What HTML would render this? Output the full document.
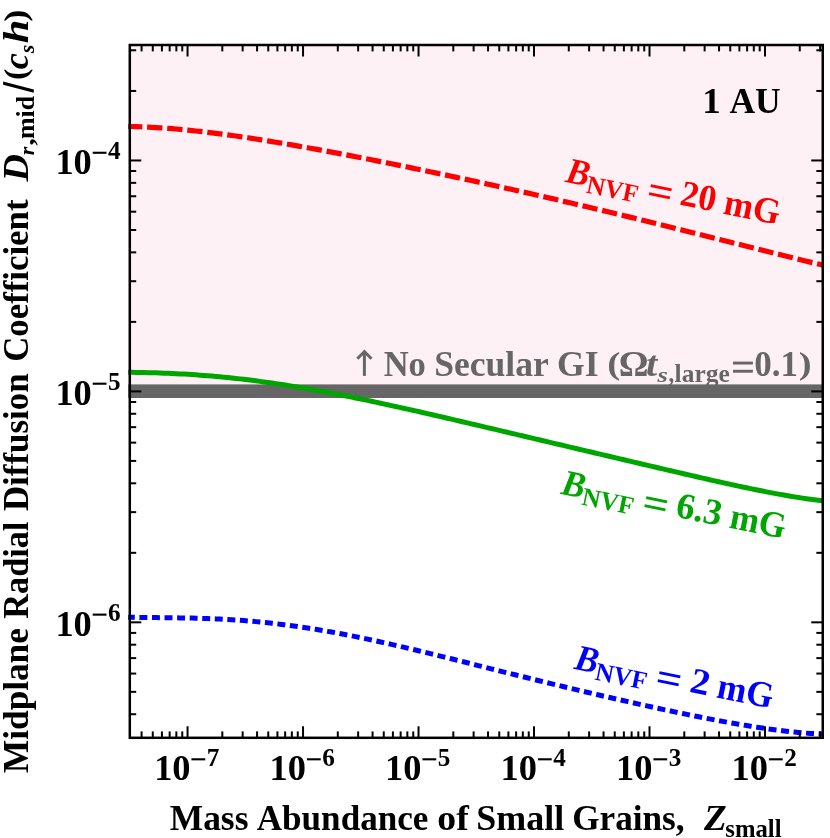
<!DOCTYPE html>
<html><head><meta charset="utf-8"><title>chart</title>
<style>
html,body{margin:0;padding:0;background:#fff;}
svg{display:block;will-change:transform;}
text{font-family:"Liberation Serif",serif;font-weight:bold;font-kerning:none;font-variant-ligatures:none;}
.i{font-style:italic;}
</style></head><body>
<svg width="830" height="838" viewBox="0 0 830 838">
<rect width="830" height="838" fill="#fff"/>
<rect x="128.2" y="45.0" width="695.55" height="346.40" fill="#fef1f6"/>
<rect x="128.2" y="384.4" width="695.55" height="13.6" fill="#666666"/>
<path d="M128.20,372.28 L132.19,372.33 L136.18,372.39 L140.17,372.47 L144.16,372.55 L148.15,372.65 L152.14,372.75 L156.13,372.87 L160.12,373.01 L164.11,373.15 L168.10,373.31 L172.09,373.49 L176.08,373.68 L180.07,373.89 L184.06,374.11 L188.04,374.34 L192.03,374.59 L196.02,374.86 L200.01,375.15 L204.00,375.45 L207.99,375.76 L211.98,376.10 L215.97,376.45 L219.96,376.81 L223.95,377.20 L227.94,377.59 L231.93,378.01 L235.92,378.44 L239.91,378.89 L243.90,379.35 L247.89,379.83 L251.88,380.33 L255.87,380.84 L259.86,381.37 L263.85,381.91 L267.84,382.46 L271.83,383.03 L275.82,383.62 L279.81,384.22 L283.80,384.83 L287.79,385.46 L291.78,386.10 L295.77,386.76 L299.76,387.42 L303.74,388.10 L307.73,388.79 L311.72,389.50 L315.71,390.21 L319.70,390.94 L323.69,391.68 L327.68,392.42 L331.67,393.18 L335.66,393.95 L339.65,394.73 L343.64,395.51 L347.63,396.31 L351.62,397.11 L355.61,397.93 L359.60,398.75 L363.59,399.58 L367.58,400.41 L371.57,401.26 L375.56,402.11 L379.55,402.96 L383.54,403.82 L387.53,404.69 L391.52,405.57 L395.51,406.45 L399.50,407.33 L403.49,408.22 L407.48,409.11 L411.47,410.01 L415.46,410.91 L419.44,411.81 L423.43,412.72 L427.42,413.64 L431.41,414.55 L435.40,415.47 L439.39,416.39 L443.38,417.31 L447.37,418.23 L451.36,419.16 L455.35,420.09 L459.34,421.02 L463.33,421.95 L467.32,422.89 L471.31,423.82 L475.30,424.75 L479.29,425.69 L483.28,426.63 L487.27,427.57 L491.26,428.51 L495.25,429.44 L499.24,430.38 L503.23,431.32 L507.22,432.26 L511.21,433.21 L515.20,434.15 L519.19,435.09 L523.18,436.03 L527.17,436.97 L531.16,437.91 L535.14,438.85 L539.13,439.79 L543.12,440.73 L547.11,441.67 L551.10,442.62 L555.09,443.56 L559.08,444.50 L563.07,445.44 L567.06,446.38 L571.05,447.32 L575.04,448.26 L579.03,449.20 L583.02,450.14 L587.01,451.08 L591.00,452.02 L594.99,452.96 L598.98,453.90 L602.97,454.84 L606.96,455.78 L610.95,456.72 L614.94,457.66 L618.93,458.60 L622.92,459.54 L626.91,460.47 L630.90,461.41 L634.89,462.35 L638.88,463.29 L642.87,464.23 L646.86,465.16 L650.84,466.10 L654.83,467.03 L658.82,467.97 L662.81,468.90 L666.80,469.83 L670.79,470.76 L674.78,471.69 L678.77,472.62 L682.76,473.54 L686.75,474.47 L690.74,475.39 L694.73,476.30 L698.72,477.22 L702.71,478.13 L706.70,479.04 L710.69,479.94 L714.68,480.84 L718.67,481.73 L722.66,482.62 L726.65,483.50 L730.64,484.37 L734.63,485.24 L738.62,486.10 L742.61,486.95 L746.60,487.79 L750.59,488.62 L754.58,489.44 L758.57,490.25 L762.56,491.05 L766.54,491.83 L770.53,492.60 L774.52,493.35 L778.51,494.09 L782.50,494.81 L786.49,495.51 L790.48,496.19 L794.47,496.85 L798.46,497.49 L802.45,498.10 L806.44,498.69 L810.43,499.26 L814.42,499.79 L818.41,500.29 L822.40,500.77" fill="none" stroke="#00a600" stroke-width="5"/>
<path d="M128.20,126.42 L132.19,126.50 L136.18,126.61 L140.17,126.75 L144.16,126.91 L148.15,127.09 L152.14,127.30 L156.13,127.53 L160.12,127.79 L164.11,128.07 L168.10,128.36 L172.09,128.68 L176.08,129.02 L180.07,129.38 L184.06,129.75 L188.04,130.14 L192.03,130.55 L196.02,130.98 L200.01,131.42 L204.00,131.88 L207.99,132.35 L211.98,132.84 L215.97,133.34 L219.96,133.85 L223.95,134.38 L227.94,134.92 L231.93,135.47 L235.92,136.03 L239.91,136.61 L243.90,137.19 L247.89,137.79 L251.88,138.39 L255.87,139.01 L259.86,139.63 L263.85,140.27 L267.84,140.91 L271.83,141.56 L275.82,142.21 L279.81,142.88 L283.80,143.55 L287.79,144.23 L291.78,144.92 L295.77,145.62 L299.76,146.32 L303.74,147.02 L307.73,147.73 L311.72,148.45 L315.71,149.18 L319.70,149.91 L323.69,150.64 L327.68,151.38 L331.67,152.13 L335.66,152.88 L339.65,153.63 L343.64,154.39 L347.63,155.15 L351.62,155.92 L355.61,156.69 L359.60,157.47 L363.59,158.25 L367.58,159.03 L371.57,159.82 L375.56,160.61 L379.55,161.40 L383.54,162.20 L387.53,163.00 L391.52,163.80 L395.51,164.61 L399.50,165.42 L403.49,166.23 L407.48,167.05 L411.47,167.87 L415.46,168.69 L419.44,169.52 L423.43,170.35 L427.42,171.18 L431.41,172.02 L435.40,172.86 L439.39,173.70 L443.38,174.54 L447.37,175.39 L451.36,176.24 L455.35,177.09 L459.34,177.94 L463.33,178.80 L467.32,179.66 L471.31,180.53 L475.30,181.39 L479.29,182.26 L483.28,183.13 L487.27,184.01 L491.26,184.89 L495.25,185.77 L499.24,186.65 L503.23,187.54 L507.22,188.43 L511.21,189.32 L515.20,190.21 L519.19,191.11 L523.18,192.01 L527.17,192.91 L531.16,193.82 L535.14,194.73 L539.13,195.64 L543.12,196.55 L547.11,197.47 L551.10,198.39 L555.09,199.31 L559.08,200.24 L563.07,201.17 L567.06,202.10 L571.05,203.03 L575.04,203.97 L579.03,204.91 L583.02,205.85 L587.01,206.80 L591.00,207.75 L594.99,208.70 L598.98,209.65 L602.97,210.61 L606.96,211.56 L610.95,212.53 L614.94,213.49 L618.93,214.46 L622.92,215.42 L626.91,216.39 L630.90,217.37 L634.89,218.34 L638.88,219.32 L642.87,220.30 L646.86,221.28 L650.84,222.27 L654.83,223.25 L658.82,224.24 L662.81,225.23 L666.80,226.22 L670.79,227.22 L674.78,228.21 L678.77,229.21 L682.76,230.21 L686.75,231.21 L690.74,232.21 L694.73,233.21 L698.72,234.21 L702.71,235.21 L706.70,236.22 L710.69,237.22 L714.68,238.23 L718.67,239.23 L722.66,240.24 L726.65,241.25 L730.64,242.25 L734.63,243.26 L738.62,244.27 L742.61,245.27 L746.60,246.28 L750.59,247.28 L754.58,248.28 L758.57,249.29 L762.56,250.29 L766.54,251.29 L770.53,252.29 L774.52,253.28 L778.51,254.28 L782.50,255.27 L786.49,256.26 L790.48,257.25 L794.47,258.23 L798.46,259.21 L802.45,260.19 L806.44,261.17 L810.43,262.14 L814.42,263.11 L818.41,264.07 L822.40,265.03" fill="none" stroke="#ff0000" stroke-width="5.2" stroke-dasharray="15.3 4.834" stroke-dashoffset="1.2"/>
<path d="M128.20,617.23 L132.19,617.32 L136.18,617.39 L140.17,617.45 L144.16,617.50 L148.15,617.55 L152.14,617.59 L156.13,617.62 L160.12,617.66 L164.11,617.70 L168.10,617.74 L172.09,617.79 L176.08,617.84 L180.07,617.89 L184.06,617.96 L188.04,618.04 L192.03,618.12 L196.02,618.22 L200.01,618.33 L204.00,618.46 L207.99,618.60 L211.98,618.75 L215.97,618.92 L219.96,619.11 L223.95,619.31 L227.94,619.54 L231.93,619.78 L235.92,620.03 L239.91,620.31 L243.90,620.61 L247.89,620.92 L251.88,621.26 L255.87,621.62 L259.86,621.99 L263.85,622.39 L267.84,622.80 L271.83,623.24 L275.82,623.69 L279.81,624.17 L283.80,624.66 L287.79,625.17 L291.78,625.71 L295.77,626.26 L299.76,626.83 L303.74,627.42 L307.73,628.03 L311.72,628.66 L315.71,629.30 L319.70,629.97 L323.69,630.64 L327.68,631.34 L331.67,632.05 L335.66,632.78 L339.65,633.53 L343.64,634.28 L347.63,635.06 L351.62,635.85 L355.61,636.65 L359.60,637.46 L363.59,638.29 L367.58,639.13 L371.57,639.98 L375.56,640.85 L379.55,641.72 L383.54,642.61 L387.53,643.50 L391.52,644.41 L395.51,645.32 L399.50,646.24 L403.49,647.17 L407.48,648.11 L411.47,649.05 L415.46,650.01 L419.44,650.96 L423.43,651.93 L427.42,652.90 L431.41,653.87 L435.40,654.85 L439.39,655.83 L443.38,656.82 L447.37,657.81 L451.36,658.80 L455.35,659.79 L459.34,660.79 L463.33,661.79 L467.32,662.79 L471.31,663.79 L475.30,664.80 L479.29,665.80 L483.28,666.80 L487.27,667.80 L491.26,668.81 L495.25,669.81 L499.24,670.81 L503.23,671.81 L507.22,672.81 L511.21,673.81 L515.20,674.80 L519.19,675.80 L523.18,676.79 L527.17,677.78 L531.16,678.76 L535.14,679.75 L539.13,680.73 L543.12,681.71 L547.11,682.68 L551.10,683.65 L555.09,684.62 L559.08,685.59 L563.07,686.55 L567.06,687.51 L571.05,688.46 L575.04,689.42 L579.03,690.36 L583.02,691.31 L587.01,692.25 L591.00,693.19 L594.99,694.12 L598.98,695.05 L602.97,695.97 L606.96,696.89 L610.95,697.81 L614.94,698.72 L618.93,699.63 L622.92,700.53 L626.91,701.43 L630.90,702.33 L634.89,703.22 L638.88,704.10 L642.87,704.99 L646.86,705.86 L650.84,706.73 L654.83,707.60 L658.82,708.46 L662.81,709.32 L666.80,710.17 L670.79,711.02 L674.78,711.86 L678.77,712.69 L682.76,713.52 L686.75,714.34 L690.74,715.15 L694.73,715.96 L698.72,716.76 L702.71,717.55 L706.70,718.33 L710.69,719.11 L714.68,719.87 L718.67,720.63 L722.66,721.37 L726.65,722.11 L730.64,722.83 L734.63,723.54 L738.62,724.23 L742.61,724.92 L746.60,725.58 L750.59,726.24 L754.58,726.87 L758.57,727.49 L762.56,728.09 L766.54,728.67 L770.53,729.23 L774.52,729.77 L778.51,730.29 L782.50,730.78 L786.49,731.24 L790.48,731.68 L794.47,732.09 L798.46,732.46 L802.45,732.81 L806.44,733.12 L810.43,733.39 L814.42,733.63 L818.41,733.82 L822.40,733.98" fill="none" stroke="#0000ff" stroke-width="5" stroke-dasharray="7.95 4.615" stroke-dashoffset="1.35"/>
<g stroke="#000" stroke-width="2">
<line x1="141.59" y1="737.8" x2="141.59" y2="731.40"/>
<line x1="141.59" y1="45.0" x2="141.59" y2="51.40"/>
<line x1="152.78" y1="737.8" x2="152.78" y2="731.40"/>
<line x1="152.78" y1="45.0" x2="152.78" y2="51.40"/>
<line x1="161.92" y1="737.8" x2="161.92" y2="731.40"/>
<line x1="161.92" y1="45.0" x2="161.92" y2="51.40"/>
<line x1="169.66" y1="737.8" x2="169.66" y2="731.40"/>
<line x1="169.66" y1="45.0" x2="169.66" y2="51.40"/>
<line x1="176.35" y1="737.8" x2="176.35" y2="731.40"/>
<line x1="176.35" y1="45.0" x2="176.35" y2="51.40"/>
<line x1="182.26" y1="737.8" x2="182.26" y2="731.40"/>
<line x1="182.26" y1="45.0" x2="182.26" y2="51.40"/>
<line x1="187.55" y1="737.8" x2="187.55" y2="726.30"/>
<line x1="187.55" y1="45.0" x2="187.55" y2="56.50"/>
<line x1="222.31" y1="737.8" x2="222.31" y2="731.40"/>
<line x1="222.31" y1="45.0" x2="222.31" y2="51.40"/>
<line x1="242.65" y1="737.8" x2="242.65" y2="731.40"/>
<line x1="242.65" y1="45.0" x2="242.65" y2="51.40"/>
<line x1="257.08" y1="737.8" x2="257.08" y2="731.40"/>
<line x1="257.08" y1="45.0" x2="257.08" y2="51.40"/>
<line x1="268.27" y1="737.8" x2="268.27" y2="731.40"/>
<line x1="268.27" y1="45.0" x2="268.27" y2="51.40"/>
<line x1="277.42" y1="737.8" x2="277.42" y2="731.40"/>
<line x1="277.42" y1="45.0" x2="277.42" y2="51.40"/>
<line x1="285.15" y1="737.8" x2="285.15" y2="731.40"/>
<line x1="285.15" y1="45.0" x2="285.15" y2="51.40"/>
<line x1="291.85" y1="737.8" x2="291.85" y2="731.40"/>
<line x1="291.85" y1="45.0" x2="291.85" y2="51.40"/>
<line x1="297.75" y1="737.8" x2="297.75" y2="731.40"/>
<line x1="297.75" y1="45.0" x2="297.75" y2="51.40"/>
<line x1="303.04" y1="737.8" x2="303.04" y2="726.30"/>
<line x1="303.04" y1="45.0" x2="303.04" y2="56.50"/>
<line x1="337.80" y1="737.8" x2="337.80" y2="731.40"/>
<line x1="337.80" y1="45.0" x2="337.80" y2="51.40"/>
<line x1="358.14" y1="737.8" x2="358.14" y2="731.40"/>
<line x1="358.14" y1="45.0" x2="358.14" y2="51.40"/>
<line x1="372.57" y1="737.8" x2="372.57" y2="731.40"/>
<line x1="372.57" y1="45.0" x2="372.57" y2="51.40"/>
<line x1="383.76" y1="737.8" x2="383.76" y2="731.40"/>
<line x1="383.76" y1="45.0" x2="383.76" y2="51.40"/>
<line x1="392.91" y1="737.8" x2="392.91" y2="731.40"/>
<line x1="392.91" y1="45.0" x2="392.91" y2="51.40"/>
<line x1="400.64" y1="737.8" x2="400.64" y2="731.40"/>
<line x1="400.64" y1="45.0" x2="400.64" y2="51.40"/>
<line x1="407.34" y1="737.8" x2="407.34" y2="731.40"/>
<line x1="407.34" y1="45.0" x2="407.34" y2="51.40"/>
<line x1="413.24" y1="737.8" x2="413.24" y2="731.40"/>
<line x1="413.24" y1="45.0" x2="413.24" y2="51.40"/>
<line x1="418.53" y1="737.8" x2="418.53" y2="726.30"/>
<line x1="418.53" y1="45.0" x2="418.53" y2="56.50"/>
<line x1="453.30" y1="737.8" x2="453.30" y2="731.40"/>
<line x1="453.30" y1="45.0" x2="453.30" y2="51.40"/>
<line x1="473.63" y1="737.8" x2="473.63" y2="731.40"/>
<line x1="473.63" y1="45.0" x2="473.63" y2="51.40"/>
<line x1="488.06" y1="737.8" x2="488.06" y2="731.40"/>
<line x1="488.06" y1="45.0" x2="488.06" y2="51.40"/>
<line x1="499.25" y1="737.8" x2="499.25" y2="731.40"/>
<line x1="499.25" y1="45.0" x2="499.25" y2="51.40"/>
<line x1="508.40" y1="737.8" x2="508.40" y2="731.40"/>
<line x1="508.40" y1="45.0" x2="508.40" y2="51.40"/>
<line x1="516.13" y1="737.8" x2="516.13" y2="731.40"/>
<line x1="516.13" y1="45.0" x2="516.13" y2="51.40"/>
<line x1="522.83" y1="737.8" x2="522.83" y2="731.40"/>
<line x1="522.83" y1="45.0" x2="522.83" y2="51.40"/>
<line x1="528.74" y1="737.8" x2="528.74" y2="731.40"/>
<line x1="528.74" y1="45.0" x2="528.74" y2="51.40"/>
<line x1="534.02" y1="737.8" x2="534.02" y2="726.30"/>
<line x1="534.02" y1="45.0" x2="534.02" y2="56.50"/>
<line x1="568.79" y1="737.8" x2="568.79" y2="731.40"/>
<line x1="568.79" y1="45.0" x2="568.79" y2="51.40"/>
<line x1="589.12" y1="737.8" x2="589.12" y2="731.40"/>
<line x1="589.12" y1="45.0" x2="589.12" y2="51.40"/>
<line x1="603.55" y1="737.8" x2="603.55" y2="731.40"/>
<line x1="603.55" y1="45.0" x2="603.55" y2="51.40"/>
<line x1="614.75" y1="737.8" x2="614.75" y2="731.40"/>
<line x1="614.75" y1="45.0" x2="614.75" y2="51.40"/>
<line x1="623.89" y1="737.8" x2="623.89" y2="731.40"/>
<line x1="623.89" y1="45.0" x2="623.89" y2="51.40"/>
<line x1="631.62" y1="737.8" x2="631.62" y2="731.40"/>
<line x1="631.62" y1="45.0" x2="631.62" y2="51.40"/>
<line x1="638.32" y1="737.8" x2="638.32" y2="731.40"/>
<line x1="638.32" y1="45.0" x2="638.32" y2="51.40"/>
<line x1="644.23" y1="737.8" x2="644.23" y2="731.40"/>
<line x1="644.23" y1="45.0" x2="644.23" y2="51.40"/>
<line x1="649.51" y1="737.8" x2="649.51" y2="726.30"/>
<line x1="649.51" y1="45.0" x2="649.51" y2="56.50"/>
<line x1="684.28" y1="737.8" x2="684.28" y2="731.40"/>
<line x1="684.28" y1="45.0" x2="684.28" y2="51.40"/>
<line x1="704.62" y1="737.8" x2="704.62" y2="731.40"/>
<line x1="704.62" y1="45.0" x2="704.62" y2="51.40"/>
<line x1="719.05" y1="737.8" x2="719.05" y2="731.40"/>
<line x1="719.05" y1="45.0" x2="719.05" y2="51.40"/>
<line x1="730.24" y1="737.8" x2="730.24" y2="731.40"/>
<line x1="730.24" y1="45.0" x2="730.24" y2="51.40"/>
<line x1="739.38" y1="737.8" x2="739.38" y2="731.40"/>
<line x1="739.38" y1="45.0" x2="739.38" y2="51.40"/>
<line x1="747.11" y1="737.8" x2="747.11" y2="731.40"/>
<line x1="747.11" y1="45.0" x2="747.11" y2="51.40"/>
<line x1="753.81" y1="737.8" x2="753.81" y2="731.40"/>
<line x1="753.81" y1="45.0" x2="753.81" y2="51.40"/>
<line x1="759.72" y1="737.8" x2="759.72" y2="731.40"/>
<line x1="759.72" y1="45.0" x2="759.72" y2="51.40"/>
<line x1="765.00" y1="737.8" x2="765.00" y2="726.30"/>
<line x1="765.00" y1="45.0" x2="765.00" y2="56.50"/>
<line x1="799.77" y1="737.8" x2="799.77" y2="731.40"/>
<line x1="799.77" y1="45.0" x2="799.77" y2="51.40"/>
<line x1="820.11" y1="737.8" x2="820.11" y2="731.40"/>
<line x1="820.11" y1="45.0" x2="820.11" y2="51.40"/>
<line x1="129.8" y1="714.23" x2="136.20" y2="714.23"/>
<line x1="822.75" y1="714.23" x2="816.35" y2="714.23"/>
<line x1="129.8" y1="691.85" x2="136.20" y2="691.85"/>
<line x1="822.75" y1="691.85" x2="816.35" y2="691.85"/>
<line x1="129.8" y1="673.57" x2="136.20" y2="673.57"/>
<line x1="822.75" y1="673.57" x2="816.35" y2="673.57"/>
<line x1="129.8" y1="658.11" x2="136.20" y2="658.11"/>
<line x1="822.75" y1="658.11" x2="816.35" y2="658.11"/>
<line x1="129.8" y1="644.71" x2="136.20" y2="644.71"/>
<line x1="822.75" y1="644.71" x2="816.35" y2="644.71"/>
<line x1="129.8" y1="632.90" x2="136.20" y2="632.90"/>
<line x1="822.75" y1="632.90" x2="816.35" y2="632.90"/>
<line x1="129.8" y1="622.33" x2="141.30" y2="622.33"/>
<line x1="822.75" y1="622.33" x2="811.25" y2="622.33"/>
<line x1="129.8" y1="552.82" x2="136.20" y2="552.82"/>
<line x1="822.75" y1="552.82" x2="816.35" y2="552.82"/>
<line x1="129.8" y1="512.15" x2="136.20" y2="512.15"/>
<line x1="822.75" y1="512.15" x2="816.35" y2="512.15"/>
<line x1="129.8" y1="483.30" x2="136.20" y2="483.30"/>
<line x1="822.75" y1="483.30" x2="816.35" y2="483.30"/>
<line x1="129.8" y1="460.92" x2="136.20" y2="460.92"/>
<line x1="822.75" y1="460.92" x2="816.35" y2="460.92"/>
<line x1="129.8" y1="442.63" x2="136.20" y2="442.63"/>
<line x1="822.75" y1="442.63" x2="816.35" y2="442.63"/>
<line x1="129.8" y1="427.17" x2="136.20" y2="427.17"/>
<line x1="822.75" y1="427.17" x2="816.35" y2="427.17"/>
<line x1="129.8" y1="413.78" x2="136.20" y2="413.78"/>
<line x1="822.75" y1="413.78" x2="816.35" y2="413.78"/>
<line x1="129.8" y1="401.97" x2="136.20" y2="401.97"/>
<line x1="822.75" y1="401.97" x2="816.35" y2="401.97"/>
<line x1="129.8" y1="391.40" x2="141.30" y2="391.40"/>
<line x1="822.75" y1="391.40" x2="811.25" y2="391.40"/>
<line x1="129.8" y1="321.88" x2="136.20" y2="321.88"/>
<line x1="822.75" y1="321.88" x2="816.35" y2="321.88"/>
<line x1="129.8" y1="281.22" x2="136.20" y2="281.22"/>
<line x1="822.75" y1="281.22" x2="816.35" y2="281.22"/>
<line x1="129.8" y1="252.36" x2="136.20" y2="252.36"/>
<line x1="822.75" y1="252.36" x2="816.35" y2="252.36"/>
<line x1="129.8" y1="229.98" x2="136.20" y2="229.98"/>
<line x1="822.75" y1="229.98" x2="816.35" y2="229.98"/>
<line x1="129.8" y1="211.70" x2="136.20" y2="211.70"/>
<line x1="822.75" y1="211.70" x2="816.35" y2="211.70"/>
<line x1="129.8" y1="196.24" x2="136.20" y2="196.24"/>
<line x1="822.75" y1="196.24" x2="816.35" y2="196.24"/>
<line x1="129.8" y1="182.85" x2="136.20" y2="182.85"/>
<line x1="822.75" y1="182.85" x2="816.35" y2="182.85"/>
<line x1="129.8" y1="171.03" x2="136.20" y2="171.03"/>
<line x1="822.75" y1="171.03" x2="816.35" y2="171.03"/>
<line x1="129.8" y1="160.47" x2="141.30" y2="160.47"/>
<line x1="822.75" y1="160.47" x2="811.25" y2="160.47"/>
<line x1="129.8" y1="90.95" x2="136.20" y2="90.95"/>
<line x1="822.75" y1="90.95" x2="816.35" y2="90.95"/>
<line x1="129.8" y1="50.28" x2="136.20" y2="50.28"/>
<line x1="822.75" y1="50.28" x2="816.35" y2="50.28"/>
</g>
<rect x="129.8" y="45.0" width="692.95" height="692.80" fill="none" stroke="#000" stroke-width="2.5"/>
<g fill="#000">
<text font-size="36" transform="translate(154.13,779.70) scale(1.0111,1.02)">10</text>
<rect x="191.45" y="758.25" width="13.8" height="2.1"/>
<text font-size="25.2" transform="translate(206.85,766.00) scale(1,1.02)">7</text>
<text font-size="36" transform="translate(269.62,779.70) scale(1.0111,1.02)">10</text>
<rect x="306.94" y="758.25" width="13.8" height="2.1"/>
<text font-size="25.2" transform="translate(322.34,766.00) scale(1,1.02)">6</text>
<text font-size="36" transform="translate(385.11,779.70) scale(1.0111,1.02)">10</text>
<rect x="422.43" y="758.25" width="13.8" height="2.1"/>
<text font-size="25.2" transform="translate(437.83,766.00) scale(1,1.02)">5</text>
<text font-size="36" transform="translate(500.61,779.70) scale(1.0111,1.02)">10</text>
<rect x="537.92" y="758.25" width="13.8" height="2.1"/>
<text font-size="25.2" transform="translate(553.32,766.00) scale(1,1.02)">4</text>
<text font-size="36" transform="translate(616.10,779.70) scale(1.0111,1.02)">10</text>
<rect x="653.41" y="758.25" width="13.8" height="2.1"/>
<text font-size="25.2" transform="translate(668.81,766.00) scale(1,1.02)">3</text>
<text font-size="36" transform="translate(731.59,779.70) scale(1.0111,1.02)">10</text>
<rect x="768.90" y="758.25" width="13.8" height="2.1"/>
<text font-size="25.2" transform="translate(784.30,766.00) scale(1,1.02)">2</text>
<text font-size="36" transform="translate(55.39,174.07) scale(1.0111,1.02)">10</text>
<rect x="92.70" y="151.72" width="13.8" height="2.1"/>
<text font-size="25.2" transform="translate(108.10,159.07) scale(1,1.02)">4</text>
<text font-size="36" transform="translate(55.39,405.00) scale(1.0111,1.02)">10</text>
<rect x="92.70" y="382.65" width="13.8" height="2.1"/>
<text font-size="25.2" transform="translate(108.10,390.00) scale(1,1.02)">5</text>
<text font-size="36" transform="translate(55.39,635.93) scale(1.0111,1.02)">10</text>
<rect x="92.70" y="613.58" width="13.8" height="2.1"/>
<text font-size="25.2" transform="translate(108.10,620.93) scale(1,1.02)">6</text>
<text font-size="36" transform="translate(169.69,830.40) scale(0.9847,1.02)">Mass</text>
<text font-size="36" transform="translate(256.76,830.40) scale(0.9749,1.02)">Abundance</text>
<text font-size="36" transform="translate(437.36,830.40) scale(1.0494,1.02)">of</text>
<text font-size="36" transform="translate(476.29,830.40) scale(0.9990,1.02)">Small</text>
<text font-size="36" transform="translate(572.18,830.40) scale(0.9778,1.02)">Grains,</text>
<text class="i" font-size="36" transform="translate(703.89,830.40) scale(1.0300,1.02)">Z</text>
<text font-size="25.2" transform="translate(725.35,836.70) scale(0.9785,1.02)">small</text>
<text font-size="36" transform="translate(702.34,112.80) scale(1.0261,1.02)">1</text>
<text font-size="36" transform="translate(729.45,112.80) scale(0.9872,1.02)">AU</text>
<text fill="#666666" font-size="36" transform="translate(383.64,375.70) scale(0.9609,1.02)">No</text>
<text fill="#666666" font-size="36" transform="translate(434.21,375.70) scale(0.9886,1.02)">Secular</text>
<text fill="#666666" font-size="36" transform="translate(557.06,375.70) scale(0.9913,1.02)">GI</text>
<text fill="#666666" font-size="36" transform="translate(607.17,374.02) scale(1.0924,0.8976)">(</text>
<text fill="#666666" font-size="36" transform="translate(618.71,375.70) scale(1.0354,1.02)">Ω</text>
<text class="i" fill="#666666" font-size="36" transform="translate(645.88,375.70) scale(1.1215,1.02)">t</text>
<text class="i" fill="#666666" font-size="20.16" transform="translate(657.54,381.70) scale(1.3227,1.02)">s</text>
<text fill="#666666" font-size="25.2" transform="translate(668.50,381.50) scale(0.8986,1.02)">,</text>
<text fill="#666666" font-size="25.2" transform="translate(674.60,381.50) scale(1.0107,1.02)">large</text>
<rect x="733.00" y="361.60" width="19.90" height="2.9" fill="#666666"/><rect x="733.00" y="369.80" width="19.90" height="2.9" fill="#666666"/>
<text fill="#666666" font-size="36" transform="translate(754.37,375.70) scale(0.9721,1.02)">0.1</text>
<text fill="#666666" font-size="36" transform="translate(798.76,374.02) scale(1.0707,0.8976)">)</text>
<g transform="translate(28.1,773) rotate(-90)"><text font-size="36" transform="translate(0.10,0.00) scale(0.9776,1.02)">Midplane</text><text font-size="36" transform="translate(154.31,0.00) scale(0.9515,1.02)">Radial</text><text font-size="36" transform="translate(261.89,0.00) scale(0.9698,1.02)">Diffusion</text><text font-size="36" transform="translate(411.20,0.00) scale(0.9668,1.02)">Coefficient</text><text class="i" font-size="36" transform="translate(591.48,0.00) scale(1.0583,1.02)">D</text><text class="i" font-size="21.419999999999998" transform="translate(617.85,6.00) scale(1.0182,1.02)">r</text><text font-size="25.2" transform="translate(627.30,6.00) scale(1.1981,1.02)">,</text><text font-size="25.2" transform="translate(633.90,6.00) scale(1.0281,1.02)">mid</text><polygon points="680.2,5.7 683.6,5.7 691.6,-25 688.2,-25"/><text font-size="36" transform="translate(693.09,-2.06) scale(0.9518,0.8945)">(</text><text class="i" font-size="36" transform="translate(703.87,0.00) scale(1.0051,1.02)">c</text><text class="i" font-size="20.16" transform="translate(719.72,6.00) scale(1.0909,1.02)">s</text><text class="i" font-size="36" transform="translate(729.87,0.00) scale(1.1811,1.02)">h</text><text font-size="36" transform="translate(751.22,-2.06) scale(1.0166,0.8945)">)</text></g>
</g>
<g fill="none" stroke="#666666" stroke-width="3" stroke-linejoin="miter"><path d="M364.4,375.9 V352"/><path d="M357.3,358.7 L364.4,351.7 L371.5,358.7"/></g>
<g transform="translate(565.5,181.5) rotate(11.5)"><text class="i" fill="#ff0000" font-size="36" transform="translate(-0.97,0.50) scale(0.9735,1.02)">B</text><text fill="#ff0000" font-size="25.2" transform="translate(21.52,6.80) scale(1.0099,1.02)">NVF</text><rect x="84.30" y="-14.40" width="21.30" height="2.9" fill="#ff0000"/><rect x="84.30" y="-6.20" width="21.30" height="2.9" fill="#ff0000"/><text fill="#ff0000" font-size="36" transform="translate(115.49,0.00) scale(0.9995,1.02)">20</text><text fill="#ff0000" font-size="36" transform="translate(160.06,0.00) scale(0.9743,1.02)">mG</text></g><g transform="translate(561,493.5) rotate(11.5)"><text class="i" fill="#00a600" font-size="36" transform="translate(-0.97,0.50) scale(0.9735,1.02)">B</text><text fill="#00a600" font-size="25.2" transform="translate(21.52,6.80) scale(1.0099,1.02)">NVF</text><rect x="84.30" y="-14.40" width="21.30" height="2.9" fill="#00a600"/><rect x="84.30" y="-6.20" width="21.30" height="2.9" fill="#00a600"/><text fill="#00a600" font-size="36" transform="translate(115.74,0.00) scale(1.0249,1.02)">6.3</text><text fill="#00a600" font-size="36" transform="translate(170.56,0.00) scale(0.9743,1.02)">mG</text></g><g transform="translate(574.2,668.5) rotate(11.5)"><text class="i" fill="#0000ff" font-size="36" transform="translate(-0.97,0.50) scale(0.9735,1.02)">B</text><text fill="#0000ff" font-size="25.2" transform="translate(21.52,6.80) scale(1.0099,1.02)">NVF</text><rect x="84.30" y="-14.40" width="21.30" height="2.9" fill="#0000ff"/><rect x="84.30" y="-6.20" width="21.30" height="2.9" fill="#0000ff"/><text fill="#0000ff" font-size="36" transform="translate(116.57,0.00) scale(1.0775,1.02)">2</text><text fill="#0000ff" font-size="36" transform="translate(144.26,0.00) scale(0.9743,1.02)">mG</text></g>
</svg>
</body></html>
